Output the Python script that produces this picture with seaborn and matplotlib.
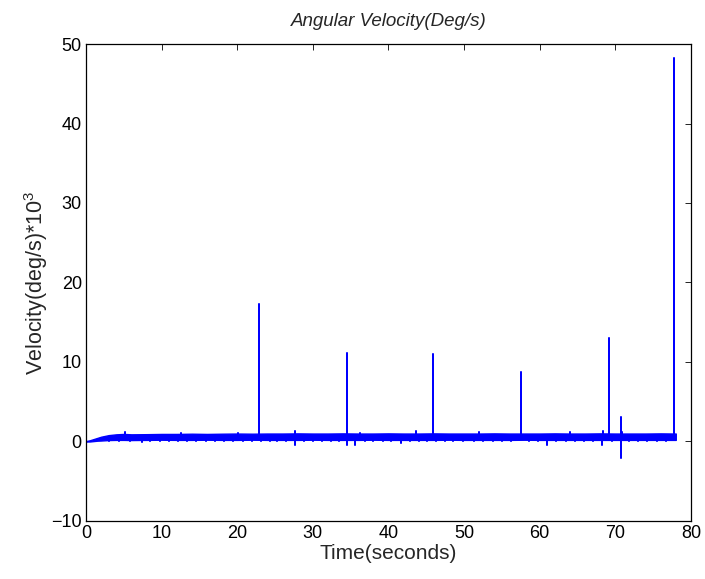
import numpy as np
import pandas as pd
import matplotlib
matplotlib.use("Agg")
import matplotlib.pyplot as plt
import seaborn as sns

# ---- data ----
# envelope of the dense noise band (time in s, velocity *10^3 deg/s)
env_t = [0, 0.5, 1, 1.5, 2, 2.5, 3, 4, 5, 6, 8, 10, 12, 14, 16, 18, 20, 22, 24, 26, 28, 30,
         32, 34, 36, 38, 40, 42, 44, 46, 48, 50, 52, 54, 56, 58, 60, 62, 64, 66, 68, 70,
         72, 74, 76, 78]
env_lo = [0.0, 0.0, 0.05, 0.1, 0.12, 0.15, 0.18, 0.2, 0.2, 0.18, 0.2, 0.22, 0.2, 0.2, 0.22,
          0.2, 0.2, 0.22, 0.2, 0.2, 0.2, 0.22, 0.2, 0.2, 0.2, 0.22, 0.2, 0.2, 0.2, 0.2, 0.22,
          0.2, 0.2, 0.2, 0.2, 0.22, 0.2, 0.2, 0.2, 0.2, 0.2, 0.2, 0.2, 0.2, 0.2, 0.2]
env_hi = [0.05, 0.15, 0.3, 0.45, 0.6, 0.7, 0.8, 0.9, 0.95, 0.9, 0.92, 0.95, 0.95, 0.98, 0.95,
          0.98, 1.0, 0.98, 1.0, 1.0, 1.02, 1.0, 1.0, 1.02, 1.0, 1.0, 1.02, 1.0, 1.0, 1.02,
          1.0, 1.0, 1.0, 1.02, 1.0, 1.0, 1.0, 1.02, 1.0, 1.0, 1.02, 1.0, 1.0, 1.0, 1.02, 1.0]

# large spikes
spike_t = [22.9, 34.5, 45.9, 57.5, 69.2, 70.7, 77.8]
spike_hi = [17.3, 11.1, 11.0, 8.7, 13.0, 3.1, 48.2]
spike_lo = [0.3, -0.5, 0.3, 0.3, 0.3, -2.1, 0.3]

# small downward dips below the band
dip_t = [3.0, 4.4, 5.8, 7.4, 8.5, 9.8, 11.0, 12.2, 13.4, 14.6, 15.9, 17.1, 18.2, 19.5,
         20.7, 21.9, 23.1, 24.3, 25.3, 26.5, 27.7, 28.8, 30.0, 31.2, 32.4, 33.5, 35.6,
         36.9, 38.0, 39.3, 40.4, 41.6, 42.8, 44.0, 45.1, 46.3, 47.5, 48.6, 49.8, 51.3,
         52.5, 53.8, 55.0, 56.2, 58.6, 59.8, 61.0, 62.2, 63.5, 64.7, 65.9, 67.1, 68.3,
         69.5, 71.8, 73.0, 74.2, 75.5, 76.7]
dip_v = [0.1, 0.0, 0.05, -0.1, 0.0, 0.05, 0.0, 0.0, 0.05, 0.0, 0.0, 0.05, 0.0, 0.0,
         0.0, 0.05, 0.0, 0.0, 0.0, 0.05, -0.4, 0.0, 0.0, 0.05, 0.0, 0.0, -0.45, 0.0, 0.0,
         0.05, 0.0, -0.2, 0.0, 0.0, 0.05, 0.0, 0.0, 0.05, 0.0, 0.0, 0.0, 0.05, 0.0, 0.0,
         0.0, 0.05, -0.5, 0.0, 0.0, 0.05, 0.0, 0.0, -0.5, 0.0, 0.0, 0.05, 0.0, 0.05, 0.0]

# small upward ticks above the band
up_t = [5.2, 12.5, 20.1, 27.7, 36.2, 43.6, 52.0, 64.0, 68.4, 70.9]
up_v = [1.2, 1.1, 1.1, 1.3, 1.1, 1.3, 1.15, 1.2, 1.3, 1.2]

base = 0.6

# ---- build the line from the events ----
events = []
for t, hi, lo in zip(spike_t, spike_hi, spike_lo):
    events.append((t, [base, hi, lo, base]))
for t, v in zip(dip_t, dip_v):
    events.append((t, [base, v, base]))
for t, v in zip(up_t, up_v):
    events.append((t, [base, v, base]))
events.sort(key=lambda e: e[0])
xs, ys = [], []
for t, vals in events:
    for v in vals:
        xs.append(t)
        ys.append(v)
df = pd.DataFrame({"time": xs, "vel": ys})

# ---- style ----
sns.set_style("white")
plt.rcParams["font.family"] = ["Liberation Sans", "DejaVu Sans"]
plt.rcParams["mathtext.fontset"] = "custom"
plt.rcParams["mathtext.rm"] = "Liberation Sans"
plt.rcParams["mathtext.it"] = "Liberation Sans:italic"

fig = plt.figure(figsize=(7.05, 5.79), dpi=100)
ax = fig.add_axes([0.122, 0.1002, 0.858, 0.8238])

ax.fill_between(env_t, env_lo, env_hi, color="#0000ff", linewidth=1.0, edgecolor="#0000ff")
sns.lineplot(data=df, x="time", y="vel", estimator=None, sort=False, ax=ax,
             color="#0000ff", linewidth=1.1)

ax.set_xlim(0, 80)
ax.set_ylim(-10, 50)
ax.set_xticks([0, 10, 20, 30, 40, 50, 60, 70, 80])
ax.set_yticks([-10, 0, 10, 20, 30, 40, 50])
ax.set_yticklabels(["\u221210", "0", "10", "20", "30", "40", "50"])
ax.tick_params(direction="in", length=4, width=0.6, labelsize=13, top=True, right=True,
               colors="black", pad=3)
for sp in ax.spines.values():
    sp.set_visible(True)
    sp.set_color("black")
    sp.set_linewidth(0.9)

ax.set_title("Angular Velocity(Deg/s)", fontsize=13.5, style="italic", pad=13)
ax.set_xlabel("Time(seconds)", fontsize=15, labelpad=1)
ax.set_ylabel(r"Velocity(deg/s)*10$^3$", fontsize=15.5, labelpad=1)

fig.savefig("out.png", dpi=100)
